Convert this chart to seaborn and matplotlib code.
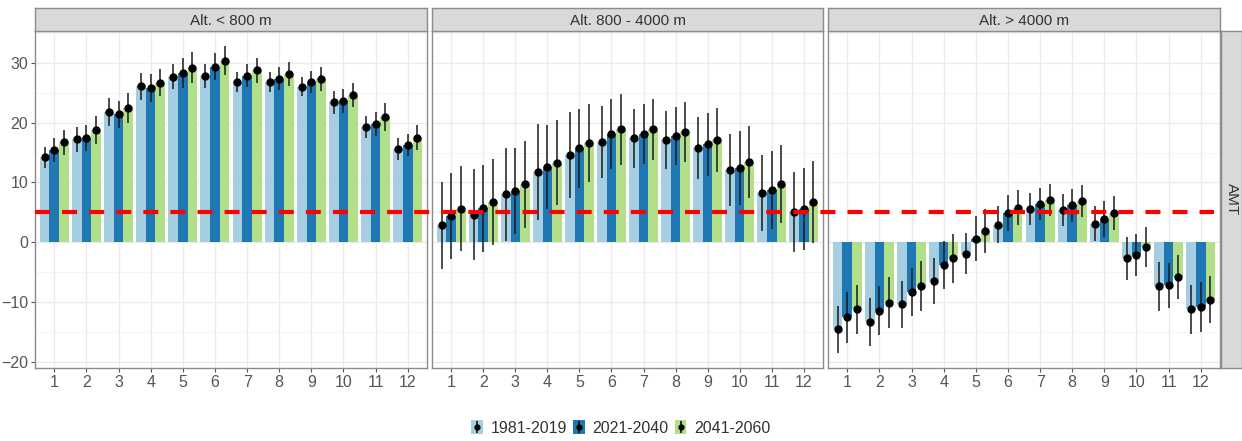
import numpy as np
import pandas as pd
import matplotlib
matplotlib.use("Agg")
import matplotlib.pyplot as plt
import seaborn as sns
from matplotlib.patches import Patch
from matplotlib.lines import Line2D
from matplotlib.legend_handler import HandlerTuple
import matplotlib.transforms as mtransforms

# ---------------- data ----------------
months = list(range(1, 13))
periods = ["1981-2019", "2021-2040", "2041-2060"]
panels = ["Alt. < 800 m", "Alt. 800 - 4000 m", "Alt. > 4000 m"]
row_label = "AMT"
threshold = 5

# Alt. < 800 m
low_1981 = [14.2, 17.2, 21.8, 26.1, 27.7, 27.9, 26.8, 26.8, 26.0, 23.4, 19.3, 15.6]
low_2021 = [15.4, 17.5, 21.4, 25.8, 28.3, 29.4, 27.9, 27.4, 26.8, 23.6, 19.8, 16.3]
low_2041 = [16.7, 18.8, 22.5, 26.7, 29.2, 30.4, 28.8, 28.2, 27.4, 24.6, 21.0, 17.5]
low_sd_1981 = [1.8, 2.1, 2.3, 2.3, 2.1, 2.0, 1.7, 1.7, 1.6, 1.9, 1.8, 1.8]
low_sd_2021 = [2.0, 2.2, 2.3, 2.3, 2.5, 2.2, 1.9, 1.9, 1.8, 2.0, 2.0, 1.9]
low_sd_2041 = [2.1, 2.3, 2.5, 2.3, 2.6, 2.4, 2.1, 2.0, 2.0, 2.0, 2.3, 2.1]

# Alt. 800 - 4000 m
mid_1981 = [2.8, 4.6, 8.0, 11.8, 14.6, 16.8, 17.4, 17.1, 15.8, 12.1, 8.2, 5.1]
mid_2021 = [4.4, 5.7, 8.6, 12.6, 15.7, 18.1, 18.1, 17.8, 16.4, 12.4, 8.7, 5.6]
mid_2041 = [5.6, 6.8, 9.7, 13.3, 16.6, 18.9, 18.9, 18.4, 17.1, 13.4, 9.7, 6.7]
mid_sd_1981 = [7.3, 7.6, 7.8, 8.0, 7.2, 6.0, 4.9, 4.8, 5.2, 6.1, 6.4, 6.7]
mid_sd_2021 = [7.2, 7.3, 7.2, 7.1, 6.6, 5.9, 5.0, 4.9, 5.3, 6.2, 6.5, 6.9]
mid_sd_2041 = [7.1, 7.2, 7.25, 7.1, 6.5, 5.9, 5.1, 5.0, 5.3, 6.0, 6.5, 6.9]

# Alt. > 4000 m
high_1981 = [-14.6, -13.4, -10.4, -6.5, -1.9, 2.9, 5.6, 5.4, 3.1, -2.7, -7.4, -11.2]
high_2021 = [-12.6, -11.5, -8.4, -3.8, 0.6, 4.9, 6.4, 6.2, 3.9, -2.2, -7.2, -10.9]
high_2041 = [-11.2, -10.1, -7.3, -2.7, 1.9, 5.8, 7.1, 6.9, 4.9, -0.8, -5.8, -9.6]
high_sd_1981 = [3.9, 4.0, 3.9, 3.8, 3.5, 3.1, 2.7, 2.7, 2.9, 3.6, 4.1, 4.1]
high_sd_2021 = [4.2, 4.1, 4.0, 4.0, 3.8, 3.0, 2.7, 2.75, 3.0, 3.5, 3.75, 4.2]
high_sd_2041 = [4.1, 4.2, 4.2, 4.1, 3.7, 2.9, 2.7, 2.7, 2.9, 3.4, 3.7, 4.0]

colors = ["#A6CEE3", "#1F78B4", "#B2DF8A"]

means = {
    panels[0]: [low_1981, low_2021, low_2041],
    panels[1]: [mid_1981, mid_2021, mid_2041],
    panels[2]: [high_1981, high_2021, high_2041],
}
sds = {
    panels[0]: [low_sd_1981, low_sd_2021, low_sd_2041],
    panels[1]: [mid_sd_1981, mid_sd_2021, mid_sd_2041],
    panels[2]: [high_sd_1981, high_sd_2021, high_sd_2041],
}

rows = []
for p in panels:
    for k, per in enumerate(periods):
        for m, v, s in zip(months, means[p][k], sds[p][k]):
            rows.append({"panel": p, "period": per, "month": m, "mean": v, "sd": s})
df = pd.DataFrame(rows)

# ---------------- style ----------------
sns.set_theme(style="white")
plt.rcParams["font.family"] = ["Liberation Sans", "DejaVu Sans"]

W, H = 1242, 441
fig = plt.figure(figsize=(W / 100, H / 100), dpi=100)

panel_px = [(35, 427), (432, 823), (828, 1220)]
top_px, bot_px = 31, 368
strip_top_px = 8

lo = (df["mean"] - df["sd"]).min()
hi = (df["mean"] + df["sd"]).max()
rng = hi - lo
ylim = (lo - 0.05 * rng, hi + 0.05 * rng)

border_col = "#8C8C8C"
text_col = "#555555"
axes = []
for i, (p, (x0, x1)) in enumerate(zip(panels, panel_px)):
    ax = fig.add_axes([x0 / W, (H - bot_px) / H, (x1 - x0) / W, (bot_px - top_px) / H])
    axes.append(ax)
    sub = df[df["panel"] == p]
    sns.barplot(data=sub, x="month", y="mean", hue="period", hue_order=periods,
                order=months, palette=colors, width=0.9, gap=0, errorbar=None,
                saturation=1, ax=ax, legend=False, zorder=2,
                linewidth=0, edgecolor="none")
    bar_containers = list(ax.containers)
    # error bars + points at bar centres
    for k, cont in enumerate(bar_containers):
        per = periods[k]
        d = sub[sub["period"] == per].set_index("month").loc[months]
        xs = [b.get_x() + b.get_width() / 2 for b in cont]
        ax.errorbar(xs, d["mean"].values, yerr=d["sd"].values, fmt="o",
                    color="black", ecolor="#1a1a1a", ms=5, elinewidth=1.1,
                    capsize=0, zorder=4)
    ax.set_xlim(-0.6, len(months) - 0.4)
    ax.set_ylim(*ylim)
    ax.set_yticks([-20, -10, 0, 10, 20, 30])
    ax.set_yticks([-15, -5, 5, 15, 25, 35], minor=True)
    ax.set_xticks(range(len(months)))
    ax.set_xticklabels([str(m) for m in months])
    ax.grid(True, which="major", color="#EBEBEB", lw=1.0, zorder=0)
    ax.grid(True, which="minor", axis="y", color="#F3F3F3", lw=0.6, zorder=0)
    ax.set_axisbelow(True)
    ax.set_xlabel("")
    ax.set_ylabel("")
    for s in ax.spines.values():
        s.set_color(border_col)
        s.set_linewidth(1.0)
    ax.tick_params(axis="x", which="major", length=3, width=0.8, color="#555555",
                   labelsize=11.5, labelcolor=text_col, pad=2, bottom=True)
    if i == 0:
        ax.tick_params(axis="y", which="major", length=3, width=0.8, color="#555555",
                       labelsize=11.5, labelcolor=text_col, pad=2, left=True)
    else:
        ax.tick_params(axis="y", which="both", left=False, labelleft=False)
    ax.tick_params(axis="y", which="minor", left=False)

    # strip
    sax = fig.add_axes([x0 / W, (H - top_px) / H, (x1 - x0) / W, (top_px - strip_top_px) / H])
    sax.set_facecolor("#D9D9D9")
    sax.set_xticks([]); sax.set_yticks([])
    for s in sax.spines.values():
        s.set_color(border_col); s.set_linewidth(1.0)
    sax.text(0.5, 0.45, p, ha="center", va="center", fontsize=11, color="#333333",
             transform=sax.transAxes)

# right strip
rax = fig.add_axes([1221 / W, (H - bot_px) / H, (W - 1221) / W, (bot_px - top_px) / H])
rax.set_facecolor("#D9D9D9")
rax.set_xticks([]); rax.set_yticks([])
for s in rax.spines.values():
    s.set_color(border_col); s.set_linewidth(1.0)
rax.text(0.5, 0.5, row_label, rotation=-90, ha="center", va="center", fontsize=11,
         color="#333333", transform=rax.transAxes)

# threshold line spanning all panels
trans = mtransforms.blended_transform_factory(fig.transFigure, axes[0].transData)
thr = Line2D([panel_px[0][0] / W, (panel_px[2][1] - 6) / W], [threshold, threshold],
             transform=trans, color="#FF0000", lw=3.0, zorder=10)
thr.set_dashes((3.6, 2.9))
fig.add_artist(thr)

# legend
handles = []
for c in colors:
    handles.append((Patch(facecolor=c, edgecolor="none"),
                    Line2D([], [], color="black", marker="|", ms=8, mew=1.1, ls="none"),
                    Line2D([], [], color="black", marker="o", ms=3.5, ls="none")))
fig.legend(handles, periods, handler_map={tuple: HandlerTuple(ndivide=1, pad=0)},
           loc="center", bbox_to_anchor=(0.5, (H - 428) / H), ncol=3, frameon=False,
           fontsize=11.5, handlelength=0.7, handleheight=0.9, handletextpad=0.5,
           columnspacing=0.4, labelcolor="#333333")

fig.savefig("out.png", dpi=100, facecolor="white")
